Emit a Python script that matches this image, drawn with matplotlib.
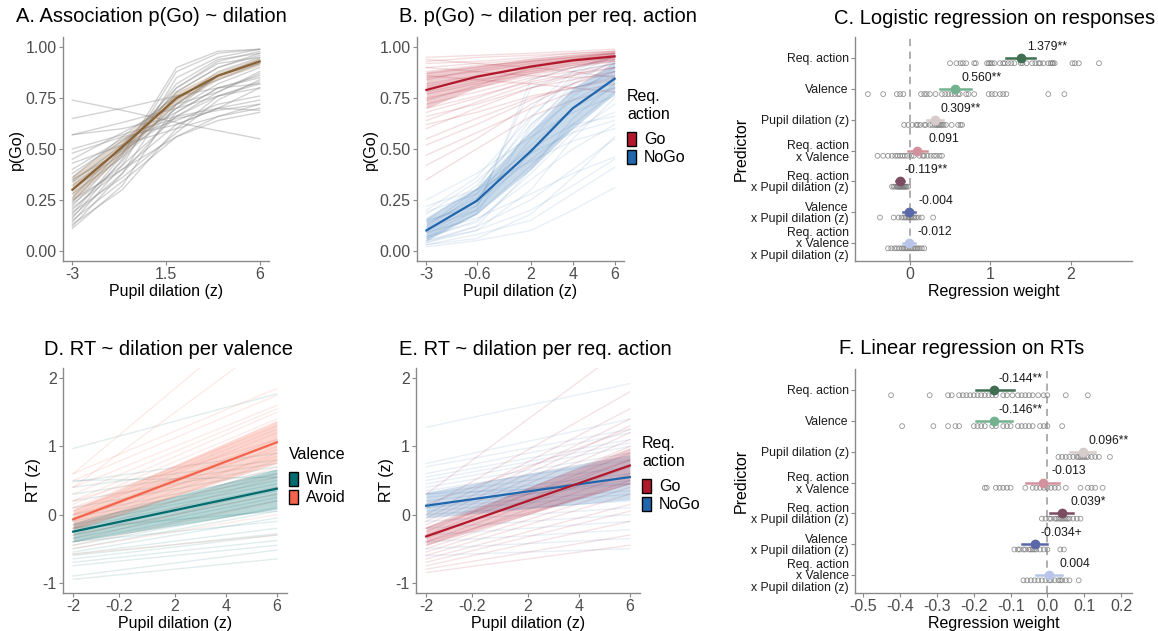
import matplotlib
matplotlib.use("Agg")
import matplotlib.pyplot as plt
from matplotlib.patches import Patch
import numpy as np

plt.rcParams["font.family"] = ["Liberation Sans", "DejaVu Sans"]

# ---------------------------------------------------------------- data
dil_bins = [-3, -0.6, 2, 4, 6]

# A: p(Go) per dilation bin, group mean + ribbon and per-subject lines
a_mean = [0.30, 0.51, 0.75, 0.86, 0.93]
a_lo = [0.24, 0.47, 0.72, 0.84, 0.91]
a_hi = [0.37, 0.55, 0.78, 0.88, 0.95]
a_subj = [
    [0.12, 0.38, 0.78, 0.90, 0.97], [0.14, 0.42, 0.85, 0.95, 0.99],
    [0.16, 0.45, 0.88, 0.97, 0.99], [0.18, 0.47, 0.90, 0.98, 0.99],
    [0.20, 0.44, 0.80, 0.93, 0.98], [0.22, 0.48, 0.82, 0.94, 0.97],
    [0.24, 0.50, 0.78, 0.90, 0.96], [0.26, 0.52, 0.80, 0.92, 0.95],
    [0.17, 0.38, 0.68, 0.80, 0.86], [0.19, 0.36, 0.58, 0.74, 0.84],
    [0.21, 0.40, 0.62, 0.70, 0.80], [0.23, 0.42, 0.66, 0.76, 0.82],
    [0.28, 0.46, 0.70, 0.82, 0.90], [0.30, 0.48, 0.72, 0.78, 0.88],
    [0.32, 0.50, 0.70, 0.86, 0.94], [0.34, 0.52, 0.74, 0.88, 0.95],
    [0.36, 0.56, 0.76, 0.84, 0.92], [0.38, 0.54, 0.68, 0.80, 0.85],
    [0.40, 0.55, 0.64, 0.72, 0.76], [0.43, 0.52, 0.60, 0.66, 0.72],
    [0.45, 0.58, 0.72, 0.86, 0.93], [0.48, 0.56, 0.62, 0.70, 0.74],
    [0.50, 0.57, 0.65, 0.69, 0.72], [0.57, 0.60, 0.66, 0.70, 0.69],
    [0.57, 0.63, 0.70, 0.76, 0.80], [0.65, 0.70, 0.76, 0.80, 0.82],
    [0.74, 0.69, 0.63, 0.59, 0.55], [0.15, 0.34, 0.56, 0.64, 0.68],
    [0.13, 0.30, 0.60, 0.76, 0.83], [0.11, 0.32, 0.72, 0.86, 0.92],
    [0.25, 0.40, 0.56, 0.66, 0.70], [0.35, 0.49, 0.66, 0.78, 0.87],
]

# B: p(Go) per required action
b_go_mean = [0.79, 0.855, 0.905, 0.935, 0.955]
b_go_lo = [0.70, 0.80, 0.87, 0.91, 0.93]
b_go_hi = [0.88, 0.91, 0.94, 0.96, 0.98]
b_nogo_mean = [0.10, 0.245, 0.49, 0.70, 0.845]
b_nogo_lo = [0.05, 0.18, 0.40, 0.60, 0.77]
b_nogo_hi = [0.16, 0.31, 0.59, 0.80, 0.93]
b_go_subj = [
    [0.95, 0.96, 0.97, 0.98, 0.99], [0.93, 0.95, 0.96, 0.97, 0.98],
    [0.92, 0.93, 0.95, 0.97, 0.98], [0.90, 0.92, 0.94, 0.96, 0.97],
    [0.88, 0.91, 0.93, 0.95, 0.97], [0.87, 0.90, 0.94, 0.96, 0.98],
    [0.85, 0.88, 0.92, 0.94, 0.96], [0.84, 0.89, 0.93, 0.95, 0.97],
    [0.82, 0.86, 0.90, 0.93, 0.95], [0.81, 0.85, 0.91, 0.94, 0.96],
    [0.80, 0.84, 0.88, 0.91, 0.94], [0.78, 0.83, 0.89, 0.92, 0.95],
    [0.77, 0.82, 0.87, 0.90, 0.93], [0.75, 0.80, 0.86, 0.90, 0.94],
    [0.74, 0.81, 0.90, 0.94, 0.97], [0.72, 0.78, 0.85, 0.88, 0.92],
    [0.70, 0.76, 0.83, 0.87, 0.90], [0.68, 0.75, 0.84, 0.90, 0.95],
    [0.66, 0.72, 0.80, 0.84, 0.88], [0.64, 0.73, 0.82, 0.86, 0.92],
    [0.62, 0.68, 0.76, 0.80, 0.84], [0.60, 0.70, 0.80, 0.86, 0.90],
    [0.55, 0.65, 0.75, 0.80, 0.85], [0.52, 0.62, 0.74, 0.82, 0.88],
    [0.47, 0.58, 0.70, 0.78, 0.82], [0.42, 0.55, 0.72, 0.82, 0.90],
    [0.35, 0.50, 0.66, 0.74, 0.80], [0.90, 0.88, 0.86, 0.85, 0.86],
    [0.86, 0.84, 0.82, 0.80, 0.78], [0.94, 0.92, 0.90, 0.88, 0.85],
]
b_nogo_subj = [
    [0.02, 0.05, 0.10, 0.20, 0.31], [0.03, 0.08, 0.15, 0.28, 0.41],
    [0.04, 0.10, 0.20, 0.32, 0.45], [0.05, 0.12, 0.25, 0.40, 0.55],
    [0.06, 0.15, 0.35, 0.50, 0.62], [0.07, 0.18, 0.42, 0.62, 0.78],
    [0.08, 0.20, 0.48, 0.70, 0.85], [0.09, 0.22, 0.55, 0.76, 0.90],
    [0.10, 0.25, 0.60, 0.82, 0.94], [0.11, 0.28, 0.65, 0.86, 0.96],
    [0.12, 0.30, 0.70, 0.88, 0.97], [0.13, 0.26, 0.52, 0.70, 0.80],
    [0.14, 0.24, 0.45, 0.60, 0.68], [0.15, 0.32, 0.62, 0.78, 0.88],
    [0.16, 0.30, 0.50, 0.62, 0.66], [0.18, 0.34, 0.58, 0.74, 0.84],
    [0.20, 0.36, 0.66, 0.84, 0.93], [0.22, 0.30, 0.44, 0.54, 0.60],
    [0.25, 0.38, 0.56, 0.68, 0.76], [0.05, 0.10, 0.30, 0.55, 0.75],
    [0.04, 0.12, 0.40, 0.65, 0.82], [0.09, 0.16, 0.28, 0.38, 0.46],
    [0.03, 0.06, 0.18, 0.36, 0.56], [0.07, 0.14, 0.38, 0.58, 0.72],
    [0.11, 0.20, 0.84, 0.90, 0.95], [0.15, 0.22, 0.80, 0.88, 0.92],
    [0.06, 0.18, 0.62, 0.80, 0.86], [0.19, 0.28, 0.48, 0.58, 0.64],
]

# D/E: linear RT fits, evaluated at the two ends of the dilation range
rt_x = [-2, 6]
d_win_mean = [-0.25, 0.38]
d_win_lo = [-0.40, 0.08]
d_win_hi = [-0.12, 0.67]
d_avoid_mean = [-0.07, 1.06]
d_avoid_lo = [-0.22, 0.75]
d_avoid_hi = [0.08, 1.38]
d_win_subj = [
    (-0.95, -0.65), (-0.90, -0.52), (-0.75, -0.45), (-0.70, -0.38),
    (-0.65, -0.30), (-0.58, -0.20), (-0.55, -0.05), (-0.50, 0.05),
    (-0.45, 0.10), (-0.40, 0.20), (-0.35, 0.25), (-0.30, 0.30),
    (-0.25, 0.35), (-0.20, 0.40), (-0.15, 0.45), (-0.10, 0.50),
    (-0.05, 0.55), (0.00, 0.60), (0.10, 0.65), (0.20, 0.70),
    (0.30, 0.75), (0.40, 0.80), (0.48, 0.90), (0.50, 0.55),
    (0.97, 1.77), (-0.60, -0.28), (-0.40, -0.10), (-0.20, 0.05),
]
d_avoid_subj = [
    (-0.58, -0.30), (-0.50, 0.00), (-0.45, 0.20), (-0.40, 0.40),
    (-0.35, 0.55), (-0.30, 0.70), (-0.25, 0.80), (-0.20, 0.90),
    (-0.15, 1.00), (-0.10, 1.05), (-0.05, 1.10), (0.00, 1.20),
    (0.05, 1.25), (0.10, 1.30), (0.15, 1.40), (0.20, 1.50),
    (0.30, 1.55), (0.40, 1.60), (0.50, 1.75), (0.60, 1.85),
    (0.60, 3.10), (0.40, 2.60), (-0.30, 0.30), (0.00, 0.85),
    (0.20, 1.10), (-0.20, 0.60), (0.10, 0.95),
]
e_go_mean = [-0.32, 0.72]
e_go_lo = [-0.45, 0.45]
e_go_hi = [-0.18, 0.98]
e_nogo_mean = [0.13, 0.55]
e_nogo_lo = [-0.05, 0.22]
e_nogo_hi = [0.33, 0.88]
e_go_subj = [
    (-0.85, -0.45), (-0.80, -0.30), (-0.75, -0.10), (-0.70, 0.05),
    (-0.65, 0.15), (-0.60, 0.30), (-0.55, 0.40), (-0.50, 0.50),
    (-0.45, 0.60), (-0.40, 0.70), (-0.35, 0.80), (-0.30, 0.90),
    (-0.25, 1.00), (-0.20, 1.10), (-0.15, 1.20), (-0.10, 1.30),
    (-0.05, 1.40), (0.00, 1.55), (0.10, 1.80), (0.30, 2.50),
    (-0.40, 0.45), (-0.20, 0.80), (0.15, 1.25),
]
e_nogo_subj = [
    (-0.60, -0.50), (-0.50, -0.35), (-0.40, -0.22), (-0.30, -0.10),
    (-0.20, 0.00), (-0.10, 0.10), (0.00, 0.20), (0.05, 0.30),
    (0.10, 0.35), (0.15, 0.45), (0.20, 0.55), (0.25, 0.60),
    (0.30, 0.70), (0.35, 0.80), (0.40, 0.90), (0.45, 1.00),
    (0.50, 1.05), (0.55, 1.10), (0.60, 1.20), (0.70, 1.25),
    (0.75, 1.40), (1.28, 1.92), (0.10, 0.50), (0.30, 0.45),
]

# C/F: regression weights per predictor (top to bottom)
predictors = [
    "Req. action", "Valence", "Pupil dilation (z)", "Req. action\nx Valence",
    "Req. action\nx Pupil dilation (z)", "Valence\nx Pupil dilation (z)",
    "Req. action\nx Valence\nx Pupil dilation (z)",
]
pred_colors = ["#3f6f50", "#74b18f", "#d7cbcb", "#d2919c", "#7c4d62", "#5a68a8", "#b9c5e8"]

c_est = [1.379, 0.560, 0.309, 0.091, -0.119, -0.004, -0.012]
c_lo = [1.19, 0.37, 0.21, -0.02, -0.17, -0.08, -0.08]
c_hi = [1.56, 0.76, 0.41, 0.21, -0.07, 0.07, 0.07]
c_sig = ["**", "**", "**", "", "**", "", ""]
c_subj = [
    [0.50, 0.58, 0.63, 0.66, 0.70, 0.80, 0.82, 0.96, 0.98, 1.00, 1.02, 1.05, 1.12,
     1.16, 1.18, 1.22, 1.26, 1.30, 1.38, 1.40, 1.45, 1.52, 1.56, 1.60, 1.62, 1.66,
     1.72, 1.75, 1.77, 1.78, 1.80, 2.02, 2.05, 2.10, 2.35],
    [-0.52, -0.33, -0.16, -0.12, -0.08, 0.14, 0.18, 0.21, 0.25, 0.32, 0.40, 0.44,
     0.48, 0.52, 0.56, 0.60, 0.62, 0.70, 0.73, 0.80, 0.98, 1.02, 1.06, 1.12, 1.16,
     1.20, 1.72, 1.92],
    [-0.07, -0.02, 0.03, 0.08, 0.10, 0.13, 0.18, 0.20, 0.25, 0.28, 0.31, 0.33, 0.35,
     0.36, 0.38, 0.40, 0.42, 0.45, 0.52, 0.60, 0.63, 0.65],
    [-0.40, -0.33, -0.27, -0.22, -0.18, -0.15, -0.12, -0.09, -0.06, -0.03, 0.02,
     0.05, 0.12, 0.16, 0.18, 0.22, 0.26, 0.30, 0.33, 0.37, 0.40],
    [-0.22, -0.20, -0.18, -0.16, -0.15, -0.14, -0.13, -0.12, -0.11, -0.10, -0.09,
     -0.08, -0.07, -0.06, -0.05, -0.04, -0.02],
    [-0.37, -0.20, -0.14, -0.10, -0.07, -0.05, -0.03, -0.01, 0.00, 0.02, 0.04, 0.06,
     0.08, 0.11, 0.15, 0.29],
    [-0.27, -0.23, -0.19, -0.16, -0.13, -0.10, -0.08, -0.06, -0.04, -0.02, 0.00,
     0.02, 0.04, 0.06, 0.08, 0.10, 0.12, 0.15, 0.18],
]

f_est = [-0.144, -0.146, 0.096, -0.013, 0.039, -0.034, 0.004]
f_lo = [-0.195, -0.193, 0.062, -0.058, 0.008, -0.070, -0.032]
f_hi = [-0.090, -0.097, 0.130, 0.032, 0.070, 0.000, 0.040]
f_sig = ["**", "**", "**", "", "*", "+", ""]
f_subj = [
    [-0.425, -0.32, -0.27, -0.26, -0.24, -0.23, -0.22, -0.21, -0.20, -0.19, -0.18,
     -0.17, -0.16, -0.15, -0.14, -0.12, -0.11, -0.095, -0.08, -0.07, -0.06, -0.05,
     -0.04, -0.025, -0.01, 0.00, 0.05, 0.11],
    [-0.395, -0.31, -0.27, -0.25, -0.24, -0.20, -0.19, -0.18, -0.17, -0.15, -0.14,
     -0.12, -0.11, -0.10, -0.08, -0.07, -0.06, -0.05, -0.04, -0.02, -0.01, 0.00, 0.04],
    [0.03, 0.04, 0.05, 0.06, 0.07, 0.08, 0.085, 0.09, 0.095, 0.10, 0.105, 0.11, 0.12,
     0.13, 0.14, 0.17],
    [-0.17, -0.165, -0.14, -0.13, -0.12, -0.11, -0.10, -0.06, -0.04, -0.03, -0.02,
     -0.01, 0.00, 0.01, 0.02, 0.03, 0.05, 0.09, 0.11, 0.12, 0.13, 0.15],
    [-0.015, -0.005, 0.005, 0.01, 0.02, 0.025, 0.03, 0.035, 0.04, 0.045, 0.05, 0.055,
     0.06, 0.07, 0.08, 0.09],
    [-0.09, -0.08, -0.075, -0.065, -0.06, -0.05, -0.045, -0.04, -0.035, -0.03, -0.02,
     -0.01, 0.00, 0.035, 0.045],
    [-0.065, -0.055, -0.045, -0.035, -0.025, -0.015, -0.005, 0.005, 0.01, 0.02, 0.03,
     0.035, 0.04, 0.05, 0.06, 0.085],
]

RED, BLUE = "#b2182b", "#2166ac"
TEAL, CORAL = "#016c6e", "#f4644b"
AXIS_GREY, TICK_GREY = "#8a8a8a", "#4d4d4d"
W, H = 1158, 631


def px_axes(fig, left, top, right, bottom):
    """Add axes from pixel edges (origin top-left)."""
    return fig.add_axes([left / W, 1 - bottom / H, (right - left) / W, (bottom - top) / H])


def classic(ax):
    for s in ("top", "right"):
        ax.spines[s].set_visible(False)
    for s in ("left", "bottom"):
        ax.spines[s].set_color(AXIS_GREY)
        ax.spines[s].set_linewidth(1.0)
    ax.tick_params(colors=AXIS_GREY, labelcolor=TICK_GREY, labelsize=11.5, length=3, width=0.8, pad=1.5)


def line_panel(ax, x, groups, xticks, xticklabels, ylim, yticks, yticklabels, ylabel):
    for subj, mean, lo, hi, color, s_alpha, r_alpha, s_color in groups:
        for ys in subj:
            ax.plot(x, ys, color=s_color, alpha=s_alpha, lw=1.0, zorder=1)
        ax.fill_between(x, lo, hi, color=color, alpha=r_alpha, lw=0, zorder=2)
        ax.plot(x, mean, color=color, lw=1.6, zorder=3)
    ax.set_xlim(x[0] - 0.05 * (x[-1] - x[0]), x[-1] + 0.05 * (x[-1] - x[0]))
    ax.set_ylim(*ylim)
    ax.set_xticks(xticks)
    ax.set_xticklabels(xticklabels)
    ax.set_yticks(yticks)
    ax.set_yticklabels(yticklabels)
    ax.set_xlabel("Pupil dilation (z)", fontsize=11.5, labelpad=1)
    ax.set_ylabel(ylabel, fontsize=11.5, labelpad=1)
    classic(ax)


def legend(fig, x, y, title, labels, colors):
    handles = [Patch(facecolor=c, edgecolor="black", lw=1.0) for c in colors]
    leg = fig.legend(handles, labels, title=title, loc="upper left",
                     bbox_to_anchor=(x / W, 1 - y / H), frameon=False, fontsize=11.5,
                     title_fontsize=11.5, handlelength=0.55, handleheight=1.0,
                     handletextpad=0.5, labelspacing=0.15, borderaxespad=0, borderpad=0,
                     alignment="left")
    leg.get_title().set_linespacing(1.25)
    leg._legend_box.sep = 7


def forest_panel(ax, est, lo, hi, sig, subj, xlim, xticks, xticklabels):
    n = len(est)
    rows = np.arange(n, 0, -1)
    ax.axvline(0, color="#a8a8a8", lw=1.3, ls=(0, (4, 3)), zorder=0)
    for r, e, l, h, s, pts, col in zip(rows, est, lo, hi, sig, subj, pred_colors):
        ax.scatter(pts, np.full(len(pts), r - 0.17), s=12, facecolors="none",
                   edgecolors="#7a7a7a", linewidths=0.6, alpha=0.8, zorder=2)
        ax.plot([l, h], [r, r], color=col, lw=1.8, zorder=3)
        ax.plot(e, r, "o", color=col, ms=6, zorder=4)
        ax.annotate(f"{e:.3f}{s}", (e, r), xytext=(19, 8), textcoords="offset points",
                    ha="center", va="center", fontsize=8.8, color="#1a1a1a")
    ax.set_ylim(0.42, n + 0.68)
    ax.set_yticks(rows)
    ax.set_yticklabels(predictors, fontsize=8.8, color="#1a1a1a", linespacing=0.95)
    ax.set_xlim(*xlim)
    ax.set_xticks(xticks)
    ax.set_xticklabels(xticklabels)
    ax.set_xlabel("Regression weight", fontsize=11.5, labelpad=1)
    ax.set_ylabel("Predictor", fontsize=11.5, labelpad=2)
    classic(ax)
    ax.tick_params(axis="y", labelcolor="#1a1a1a", labelsize=8.8)


def main():
    fig = plt.figure(figsize=(W / 100, H / 100), dpi=100)

    # A. association p(Go) ~ dilation
    ax = px_axes(fig, 63, 37, 269, 261)
    line_panel(ax, dil_bins, [(a_subj, a_mean, a_lo, a_hi, "#8b6236", 0.38, 0.25, "#8c8c8c")],
               [-3, 1.5, 6], ["-3", "1.5", "6"], (-0.05, 1.05),
               [0, 0.25, 0.5, 0.75, 1.0], ["0.00", "0.25", "0.50", "0.75", "1.00"], "p(Go)")

    # B. p(Go) ~ dilation per required action
    ax = px_axes(fig, 417, 37, 624, 261)
    line_panel(ax, dil_bins,
               [(b_go_subj, b_go_mean, b_go_lo, b_go_hi, RED, 0.14, 0.22, RED),
                (b_nogo_subj, b_nogo_mean, b_nogo_lo, b_nogo_hi, BLUE, 0.10, 0.24, BLUE)],
               [-3, -0.6, 2, 4, 6], ["-3", "-0.6", "2", "4", "6"], (-0.05, 1.05),
               [0, 0.25, 0.5, 0.75, 1.0], ["0.00", "0.25", "0.50", "0.75", "1.00"], "p(Go)")
    legend(fig, 627, 89, "Req.\naction", ["Go", "NoGo"], [RED, BLUE])

    # C. logistic regression on responses
    ax = px_axes(fig, 855, 37, 1132, 261)
    forest_panel(ax, c_est, c_lo, c_hi, c_sig, c_subj, (-0.68, 2.76), [0, 1, 2], ["0", "1", "2"])

    rt_ticks = [-2, -0.2, 2, 4, 6]
    rt_labels = ["-2", "-0.2", "2", "4", "6"]

    # D. RT ~ dilation per valence
    ax = px_axes(fig, 63, 368, 287, 593)
    line_panel(ax, rt_x,
               [(d_win_subj, d_win_mean, d_win_lo, d_win_hi, TEAL, 0.12, 0.28, TEAL),
                (d_avoid_subj, d_avoid_mean, d_avoid_lo, d_avoid_hi, CORAL, 0.12, 0.25, CORAL)],
               rt_ticks, rt_labels, (-1.15, 2.15), [-1, 0, 1, 2], ["-1", "0", "1", "2"], "RT (z)")
    legend(fig, 289, 447, "Valence", ["Win", "Avoid"], [TEAL, CORAL])

    # E. RT ~ dilation per required action
    ax = px_axes(fig, 416, 368, 640, 593)
    line_panel(ax, rt_x,
               [(e_nogo_subj, e_nogo_mean, e_nogo_lo, e_nogo_hi, BLUE, 0.10, 0.22, BLUE),
                (e_go_subj, e_go_mean, e_go_lo, e_go_hi, RED, 0.12, 0.22, RED)],
               rt_ticks, rt_labels, (-1.15, 2.15), [-1, 0, 1, 2], ["-1", "0", "1", "2"], "RT (z)")
    legend(fig, 642, 436, "Req.\naction", ["Go", "NoGo"], [RED, BLUE])

    # F. linear regression on RTs
    ax = px_axes(fig, 855, 369, 1132, 593)
    f_ticks = [-0.5, -0.4, -0.3, -0.2, -0.1, 0.0, 0.1, 0.2]
    forest_panel(ax, f_est, f_lo, f_hi, f_sig, f_subj, (-0.523, 0.23),
                 f_ticks, [f"{t:.1f}" for t in f_ticks])

    titles = [
        (151, 17, "A. Association p(Go) ~ dilation"),
        (548, 17, "B. p(Go) ~ dilation per req. action"),
        (995, 18, "C. Logistic regression on responses"),
        (169, 349, "D. RT ~ dilation per valence"),
        (535, 349, "E. RT ~ dilation per req. action"),
        (962, 348, "F. Linear regression on RTs"),
    ]
    for x, y, t in titles:
        fig.text(x / W, 1 - y / H, t, fontsize=14.5, ha="center", va="center", color="black")

    fig.savefig("out.png", dpi=100, facecolor="white")


if __name__ == "__main__":
    main()
